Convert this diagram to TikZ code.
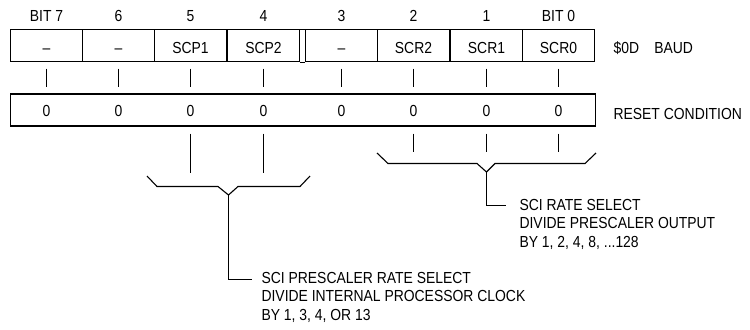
\documentclass[tikz,border=0pt]{standalone}
\usepackage{fontspec}
\setmainfont{Liberation Sans}[FakeStretch=0.87]
\usetikzlibrary{positioning, calc}

\begin{document}
\begin{tikzpicture}[x=0.5pt, y=-0.5pt, line width=0.55pt,
    font=\fontsize{8}{9.25}\selectfont,
    cell/.style={draw, minimum width=36.2pt, minimum height=16pt,
                 inner sep=0pt, text height=7.6pt, text depth=0pt},
    txt/.style={inner sep=0pt, anchor=base},
    note/.style={inner sep=0pt, anchor=base west, align=left}]
  \useasboundingbox (0,0) rectangle (750,329);

  % Register cells, bit numbers, reset values
  \node[draw, minimum width=292.5pt, minimum height=16pt, inner sep=0pt]
    (reset) at (303,110) {};
  \foreach \b/\x/\lab/\name in {7/46.5/{BIT 7}/\textendash, 6/118.5/6/\textendash,
      5/190.5/5/SCP1, 4/263.5/4/SCP2, 3/341.5/3/\textendash,
      2/413.5/2/SCR2, 1/486.5/1/SCR1, 0/558.5/{BIT 0}/SCR0}{
    \node[cell] (r\b) at (\x,45.7) {\name};
    \node[txt] (n\b) at (\x,21.5) {\lab};
    \node[txt] (z\b) at (\x,116.8) {0};
    \draw (\x,68.5) -- (\x,87);
  }
  \draw (r4.north east) -- (r3.north west);
  \draw (r4.south east) -- (r3.south west);

  % Register name and reset label
  \node[txt, anchor=base west] (baud) at (613,53.3) {\$0D\hspace{7.6pt}BAUD};
  \node[txt, anchor=base west] (rst) at (613,119.5) {RESET CONDITION};

  % Prescaler bits (base = last line)
  \foreach \b in {5,4}
    \draw (r\b |- reset.south) ++(0,7) -- ++(0,39);
  \draw (147,176) -- (157,186.5) -- (218,186.5) -- (228.5,195) -- (238,186.5)
    -- (300,186.5) -- (310,176);
  \coordinate (bA) at (228.5,195);
  \coordinate (kA) at (252,279.5);
  \draw (bA) |- (kA);
  \node[note] (scp) at (261,320) {SCI PRESCALER RATE SELECT\\
    DIVIDE INTERNAL PROCESSOR CLOCK\\BY 1, 3, 4, OR 13};

  % Rate select bits
  \foreach \b in {2,1,0}
    \draw (r\b |- reset.south) ++(0,7) -- ++(0,18);
  \draw (377,153) -- (388,163.5) -- (477,163.5) -- (486.5,172) -- (495,163.5)
    -- (585,163.5) -- (596,153);
  \coordinate (bB) at (486.5,172);
  \coordinate (kB) at (506,205.5);
  \draw (bB) |- (kB);
  \node[note] (scr) at (519,247) {SCI RATE SELECT\\
    DIVIDE PRESCALER OUTPUT\\BY 1, 2, 4, 8, ...128};
\end{tikzpicture}
\end{document}
